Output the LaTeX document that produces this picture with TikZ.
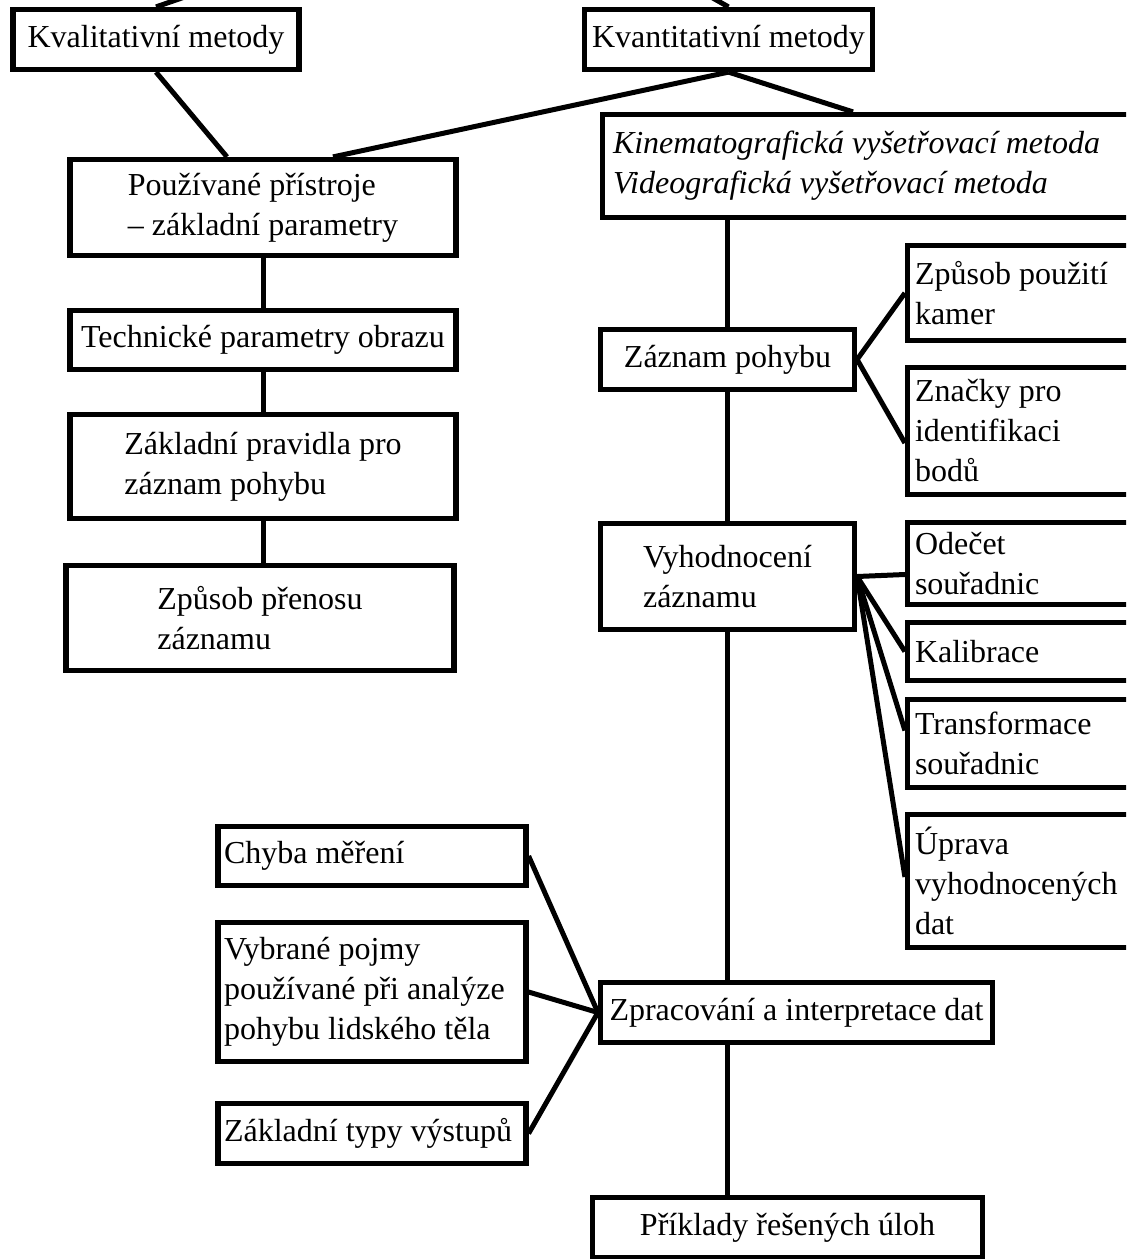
\documentclass[tikz,border=0pt]{standalone}
\usepackage{fontspec}
\setmainfont{Liberation Serif}
\usetikzlibrary{calc}

\begin{document}
\begin{tikzpicture}[x=0.5pt,y=-0.5pt,
  box/.style={draw, rectangle, line width=2.6pt, inner sep=3pt, align=left,
    font=\fontsize{16}{20}\selectfont},
  rbox/.style={box, align=flush left, text width=120pt, inner xsep=3.75pt},
  lbox/.style={box, align=flush left, text width=148pt, inner xsep=3pt},
  conn/.style={line width=2.5pt}]
\useasboundingbox (0,0) rectangle (1126,1259);
\clip (0,0) rectangle (1126,1259);

\coordinate (top) at (512,-116);
\node[box, minimum width=143pt, minimum height=30pt] (kval) at (156,39.5) {Kvalitativní metody};
\node[box, minimum width=144pt, minimum height=30pt] (kvant) at (728.5,39.5) {Kvantitativní metody};

% levy sloupec
\node[box, minimum width=193pt, minimum height=48pt] (pouz) at (263,207.5) {Používané přístroje\\– základní parametry};
\node[box, minimum width=193pt, minimum height=29.5pt] (tech) at (263,340) {Technické parametry obrazu};
\node[box, minimum width=193pt, minimum height=52pt] (zakl) at (263,466.5) {Základní pravidla pro\\záznam pohybu};
\node[box, minimum width=194pt, minimum height=52.5pt] (prenos) at (260,618) {Způsob přenosu\\záznamu};

% pravy sloupec
\node[box, align=flush left, text width=287pt, inner xsep=5.2pt, minimum height=51.5pt, font=\fontsize{16}{20}\selectfont\itshape] (kine) at (900,166) {Kinematografická vyšetřovací metoda\\Videografická vyšetřovací metoda};
\node[box, minimum width=127pt, minimum height=30pt] (zaznam) at (727.5,359.5) {Záznam pohybu};
\node[box, minimum width=127pt, minimum height=53pt] (vyhod) at (727.5,576.5) {Vyhodnocení\\záznamu};
\node[rbox, minimum height=47.4pt] (kamery) at (1035,293) {Způsob použití\\kamer};
\node[rbox, minimum height=63.4pt] (znacky) at (1035,431) {Značky pro\\identifikaci\\bodů};
\node[rbox, minimum height=41pt] (odecet) at (1035,563.5) {Odečet\\souřadnic};
\node[rbox, minimum height=29pt] (kalib) at (1035,651.5) {Kalibrace};
\node[rbox, minimum height=44pt] (transf) at (1035,743.5) {Transformace\\souřadnic};
\node[rbox, minimum height=66.4pt] (uprava) at (1035,881) {Úprava\\vyhodnocených\\dat};

% dole
\node[lbox, minimum height=29.4pt] (chyba) at (372,856) {Chyba měření};
\node[lbox, minimum height=69.4pt] (pojmy) at (372,992) {Vybrané pojmy\\používané při analýze\\pohybu lidského těla};
\node[lbox, minimum height=30pt] (vystupy) at (372,1133.5) {Základní typy výstupů};
\node[box, minimum width=196pt, minimum height=30pt] (zprac) at (796.5,1012.5) {Zpracování a interpretace dat};
\node[box, minimum width=195pt, minimum height=30pt] (priklady) at (787.5,1227.5) {Příklady řešených úloh};

\path[draw,conn] (top) -- (kval.north);
\path[draw,conn] (top) -- (kvant.north);
\path[draw,conn] (kval.south) -- ($(pouz.north)+(-36,0)$);
\path[draw,conn] (kvant.south) -- ($(pouz.north)+(70,0)$);
\path[draw,conn] (kvant.south) -- ($(kine.north)+(-47,0)$);
\path[draw,conn] (pouz) -- (tech);
\path[draw,conn] (tech) -- (zakl);
\path[draw,conn] (zakl.south) -- (zakl.south |- prenos.north);
\path[draw,conn] (zaznam.north |- kine.south) -- (zaznam.north);
\path[draw,conn] (zaznam) -- (vyhod);
\path[draw,conn] (vyhod.south) -- (vyhod.south |- zprac.north);
\path[draw,conn] (vyhod.south |- zprac.south) -- (vyhod.south |- priklady.north);
\path[draw,conn] (zaznam.east) -- (kamery.west);
\path[draw,conn] (zaznam.east) -- ($(znacky.west)+(0,12)$);
\path[draw,conn] (vyhod.east) -- ($(odecet.west)+(0,11)$);
\path[draw,conn] (vyhod.east) -- (kalib.west);
\path[draw,conn] (vyhod.east) -- ($(transf.west)+(0,-13)$);
\path[draw,conn] (vyhod.east) -- ($(uprava.west)+(0,-4)$);
\path[draw,conn] (chyba.east) -- (zprac.west);
\path[draw,conn] (pojmy.east) -- (zprac.west);
\path[draw,conn] (vystupy.east) -- (zprac.west);
\end{tikzpicture}
\end{document}
